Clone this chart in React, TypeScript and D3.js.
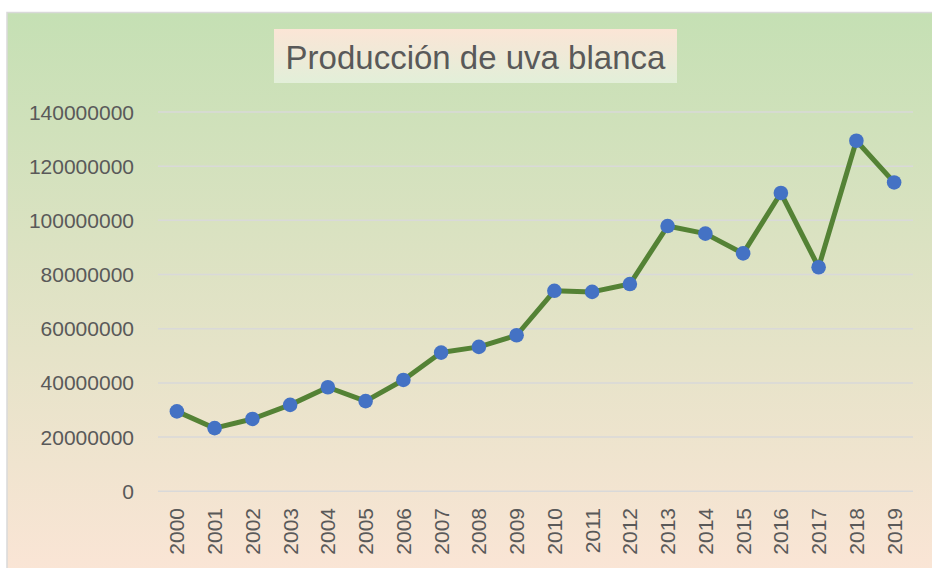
import React, { useEffect, useRef } from 'react';
import * as d3 from 'd3';

// Data
const years = [
  '2000', '2001', '2002', '2003', '2004', '2005', '2006', '2007', '2008', '2009',
  '2010', '2011', '2012', '2013', '2014', '2015', '2016', '2017', '2018', '2019',
];
const production = [
  29500000, 23300000, 26700000, 31900000, 38400000, 33300000, 41100000, 51200000,
  53300000, 57600000, 74000000, 73600000, 76500000, 97900000, 95100000, 87800000,
  110100000, 82700000, 129400000, 114000000,
];
const yTicks = [0, 20000000, 40000000, 60000000, 80000000, 100000000, 120000000, 140000000];
const title = 'Producción de uva blanca';

const App = () => {
  const ref = useRef<SVGSVGElement | null>(null);

  useEffect(() => {
    const W = 932;
    const H = 568;
    const margin = { top: 112, right: 20, bottom: 77, left: 158 };
    const plotRight = 913;
    const font = "'Liberation Sans', Arial, sans-serif";

    const svg = d3.select(ref.current);
    svg.selectAll('*').remove();

    const defs = svg.append('defs');
    const bg = defs.append('linearGradient')
      .attr('id', 'bg').attr('x1', 0).attr('y1', 0).attr('x2', 0).attr('y2', 1);
    bg.append('stop').attr('offset', '0%').attr('stop-color', '#c5e0b4');
    bg.append('stop').attr('offset', '100%').attr('stop-color', '#fbe5d6');

    const tg = defs.append('linearGradient')
      .attr('id', 'tg').attr('x1', 0).attr('y1', 0).attr('x2', 0).attr('y2', 1);
    tg.append('stop').attr('offset', '0%').attr('stop-color', '#fbe5d6');
    tg.append('stop').attr('offset', '100%').attr('stop-color', '#e2efd9');

    // chart area with border
    svg.append('rect')
      .attr('x', 7).attr('y', 12.5)
      .attr('width', W).attr('height', H)
      .attr('fill', 'url(#bg)')
      .attr('stroke', '#d9d9d9')
      .attr('stroke-width', 1.5);

    // title box
    svg.append('rect')
      .attr('x', 274).attr('y', 29)
      .attr('width', 403).attr('height', 54)
      .attr('fill', 'url(#tg)');
    svg.append('text')
      .attr('x', 475.5).attr('y', 69)
      .attr('text-anchor', 'middle')
      .attr('font-family', font)
      .attr('font-size', 33)
      .attr('fill', '#595959')
      .text(title);

    const x = d3.scaleBand()
      .domain(years)
      .range([margin.left, plotRight]);

    const y = d3.scaleLinear()
      .domain([0, 140000000])
      .range([491.3, margin.top]);

    // gridlines
    svg.append('g')
      .selectAll('line')
      .data(yTicks)
      .enter()
      .append('line')
      .attr('x1', margin.left).attr('x2', plotRight)
      .attr('y1', d => y(d)).attr('y2', d => y(d))
      .attr('stroke', '#d9d9d9')
      .attr('stroke-width', 1.5);

    // y labels
    svg.append('g')
      .selectAll('text')
      .data(yTicks)
      .enter()
      .append('text')
      .attr('x', 134)
      .attr('y', d => y(d) + 7.5)
      .attr('text-anchor', 'end')
      .attr('font-family', font)
      .attr('font-size', 21)
      .attr('fill', '#595959')
      .text(d => String(d));

    // x labels (rotated)
    svg.append('g')
      .selectAll('text')
      .data(years)
      .enter()
      .append('text')
      .attr('transform', d => `translate(${(x(d) as number) + x.bandwidth() / 2 + 7.5},508) rotate(-90)`)
      .attr('text-anchor', 'end')
      .attr('font-family', font)
      .attr('font-size', 21)
      .attr('fill', '#595959')
      .text(d => d);

    const pts = years.map((yr, i) => [(x(yr) as number) + x.bandwidth() / 2, y(production[i])] as [number, number]);

    svg.append('path')
      .datum(pts)
      .attr('d', d3.line())
      .attr('fill', 'none')
      .attr('stroke', '#548235')
      .attr('stroke-width', 5)
      .attr('stroke-linejoin', 'round');

    svg.append('g')
      .selectAll('circle')
      .data(pts)
      .enter()
      .append('circle')
      .attr('cx', d => d[0])
      .attr('cy', d => d[1])
      .attr('r', 7.3)
      .attr('fill', '#4472c4');
  }, []);

  return (
    <svg
      ref={ref}
      width={932}
      height={568}
      style={{ position: 'absolute', left: 0, top: 0, background: '#ffffff' }}
    />
  );
};

export default App;
